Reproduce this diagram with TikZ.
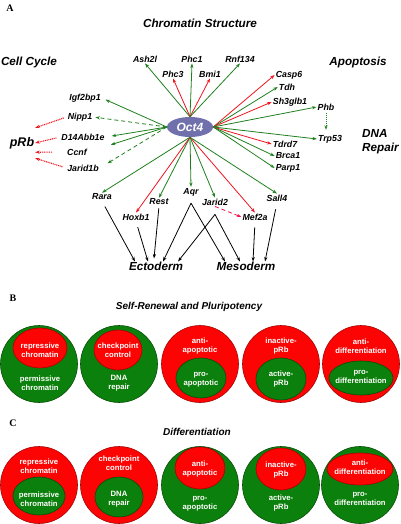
\documentclass[tikz,border=0pt]{standalone}
\usepackage{fontspec}
\setmainfont{Liberation Sans}
\newfontfamily\panelfont{Liberation Serif}
\usetikzlibrary{arrows.meta,shapes.geometric}
\definecolor{lgreen}{RGB}{30,128,30}
\definecolor{lred}{RGB}{238,20,30}
\definecolor{cgreen}{RGB}{12,128,12}
\definecolor{cred}{RGB}{252,4,4}
\definecolor{octfill}{RGB}{112,112,172}
\begin{document}
\begin{tikzpicture}[x=1pt,y=-1pt,
  gene/.style={font=\fontsize{8.8}{10}\selectfont\bfseries\itshape, inner sep=1pt},
  head/.style={font=\fontsize{11.7}{14}\selectfont\bfseries\itshape, inner sep=0pt},
  panel/.style={font=\fontsize{10}{12}\selectfont\panelfont\bfseries, inner sep=0pt},
  sub/.style={font=\fontsize{10}{12}\selectfont\bfseries\itshape, inner sep=0pt},
  tip/.style={-{Stealth[length=4.5pt,width=3.2pt]}},
  gar/.style={tip, draw=lgreen, line width=0.8pt},
  rar/.style={tip, draw=lred, line width=0.8pt},
  gdash/.style={tip, draw=lgreen, line width=0.8pt, dash pattern=on 4pt off 3pt},
  rdot/.style={tip, draw=lred, line width=1.1pt, dash pattern=on 1pt off 0.8pt},
  gdot/.style={tip, draw=lgreen, line width=0.8pt, dash pattern=on 1pt off 1pt},
  rdash/.style={tip, draw=lred!80!magenta, line width=0.8pt, dash pattern=on 4pt off 3pt},
  bar/.style={tip, draw=black, line width=0.8pt},
  gouter/.style={circle, minimum size=77pt, inner sep=0pt, fill=cgreen, draw=cgreen!60!black, line width=0.6pt},
  router/.style={circle, minimum size=77pt, inner sep=0pt, fill=cred, draw=cred!65!black, line width=0.6pt},
  ginner/.style={ellipse, inner sep=0pt, fill=cgreen, draw=cgreen!60!black, line width=0.6pt},
  rinner/.style={ellipse, inner sep=0pt, fill=cred, draw=cred!65!black, line width=0.6pt},
  ctext/.style={text=white, font=\fontsize{7.7}{9}\selectfont\bfseries, align=center, inner sep=0pt}
]
\useasboundingbox (0,0) rectangle (400,524);

% ---------- Panel A ----------
\node[panel] (pA) at (10,8) {A};
\node[head] (hchrom) at (200,23) {Chromatin Structure};
\node[head] (hcell) at (29,62) {Cell Cycle};
\node[head] (hapop) at (358,62) {Apoptosis};
\node[head, anchor=west, align=left] (hdna) at (362,142) {DNA\\Repair};

\node[ellipse, fill=octfill, minimum width=46pt, minimum height=20pt, inner sep=0pt,
      text=white, font=\fontsize{12}{14}\selectfont\bfseries\itshape] (oct4) at (190,127) {Oct4};

% top
\node[gene] (ash2l) at (145,59) {Ash2l};
\node[gene] (phc1) at (192,59) {Phc1};
\node[gene] (rnf134) at (240,59) {Rnf134};
\node[gene] (phc3) at (173,74) {Phc3};
\node[gene] (bmi1) at (210,74) {Bmi1};
% right
\node[gene] (casp6) at (289,75) {Casp6};
\node[gene] (tdh) at (287,87) {Tdh};
\node[gene] (sh3glb1) at (290,102) {Sh3glb1};
\node[gene] (phb) at (326,107) {Phb};
\node[gene] (trp53) at (330,139) {Trp53};
\node[gene] (tdrd7) at (285,144) {Tdrd7};
\node[gene] (brca1) at (288,156) {Brca1};
\node[gene] (parp1) at (288,168) {Parp1};
% bottom
\node[gene] (sall4) at (277,198) {Sall4};
\node[gene] (mef2a) at (255,217) {Mef2a};
\node[gene] (jarid2) at (215,202) {Jarid2};
\node[gene] (aqr) at (191,192) {Aqr};
\node[gene] (rest) at (159,202) {Rest};
\node[gene] (hoxb1) at (136,217) {Hoxb1};
\node[gene] (rara) at (102,197) {Rara};
% left
\node[gene] (igf2bp1) at (85,98) {Igf2bp1};
\node[gene] (nipp1) at (80,117) {Nipp1};
\node[gene] (d14) at (83,137) {D14Abb1e};
\node[gene] (ccnf) at (77,152) {Ccnf};
\node[gene] (jarid1b) at (83,168) {Jarid1b};
\node[font=\fontsize{12.5}{14}\selectfont\bfseries\itshape, inner sep=0pt,
      minimum height=30pt, minimum width=26pt] (prb) at (22,143) {pRb};

\node[head] (ecto) at (156,266) {Ectoderm};
\node[head] (meso) at (246,266) {Mesoderm};

% top arrows
\draw[gar] (oct4.north) -- (ash2l.south);
\draw[rar] (oct4.north) -- (phc3.south);
\draw[gar] (oct4.north) -- (phc1.south);
\draw[rar] (oct4.north) -- (bmi1.south);
\draw[gar] (oct4.north) -- (rnf134.south);
% right arrows
\draw[rar] (oct4.east) -- (casp6.west);
\draw[gar] (oct4.east) -- (tdh.west);
\draw[rar] (oct4.east) -- (sh3glb1.west);
\draw[gar] (oct4.east) -- (phb.west);
\draw[gar] (oct4.east) -- (trp53.west);
\draw[rar] (oct4.east) -- (tdrd7.west);
\draw[gar] (oct4.east) -- (brca1.west);
\draw[gar] (oct4.east) -- (parp1.west);
\draw[gdot, shorten <=2pt, shorten >=4pt] (phb.south) -- (phb.south |- trp53.north);
% bottom arrows
\draw[gar] (oct4.south) -- (sall4.north);
\draw[rar] (oct4.south) -- (mef2a.north);
\draw[gar] (oct4.south) -- (jarid2.north);
\draw[gar] (oct4.south) -- (aqr.north);
\draw[gar] (oct4.south) -- (rest.north);
\draw[rar] (oct4.south) -- (hoxb1.north);
\draw[gar] (oct4.south) -- (rara.north);
% left arrows
\draw[gar, shorten >=4pt] (oct4.west) -- (igf2bp1.east);
\draw[gdash, shorten >=2pt] (oct4.west) -- (nipp1.east);
\draw[gar, shorten >=6pt] (oct4.west) -- (d14.east);
\draw[gar, shorten >=24pt] (oct4.west) -- (ccnf.east);
\draw[gdash, shorten >=9pt] (oct4.west) -- (jarid1b.east);
% to pRb
\draw[rdot, shorten <=3pt] (nipp1.west) -- (prb.north east);
\draw[rdot, shorten <=4pt] (d14.west) -- (prb.east);
\draw[rdot, shorten <=14pt] (ccnf.west) -- (prb.-35);
\draw[rdot, shorten <=4pt] (jarid1b.west) -- (prb.south east);
% Jarid2 -> Mef2a
\draw[rdash] (jarid2.south) -- (mef2a.west);

% germ layers
\coordinate (aqrp) at ([yshift=-6pt]aqr.south);
\coordinate (j2p) at ([yshift=-8pt]jarid2.south);
\draw[bar, shorten <=6pt] (rara.south) -- ([xshift=-21pt]ecto.north);
\draw[bar, shorten <=6pt] (hoxb1.south) -- ([xshift=-8pt]ecto.north);
\draw[bar, shorten <=2pt] (rest.south) -- ([xshift=-2pt,yshift=3pt]ecto.north);
\draw[bar] (aqrp) -- ([xshift=7pt]ecto.north);
\draw[bar] (j2p) -- ([xshift=22pt]ecto.north);
\draw[bar] (aqrp) -- ([xshift=-21pt]meso.north);
\draw[bar] (j2p) -- ([xshift=-6pt]meso.north);
\draw[bar, shorten <=6pt] (mef2a.south) -- ([xshift=7pt]meso.north);
\draw[bar, shorten <=7pt] (sall4.south) -- ([xshift=19pt]meso.north);

% ---------- Panel B ----------
\node[panel] (pB) at (13,298) {B};
\node[sub] (hself) at (189,307) {Self-Renewal and Pluripotency};

\node[gouter] (b1) at (39,364) {};
\node[rinner, minimum width=54pt, minimum height=40pt] (b1i) at (40,348) {};
\node[ctext] (b1t) at (40,350) {repressive\\chromatin};
\node[ctext] (b1u) at (40,383.5) {permissive\\chromatin};

\node[gouter] (b2) at (119,364) {};
\node[rinner, minimum width=48pt, minimum height=40pt] (b2i) at (118,350) {};
\node[ctext] (b2t) at (118,350) {checkpoint\\control};
\node[ctext] (b2u) at (119,383.5) {DNA\\repair};

\node[router] (b3) at (200,364) {};
\node[ginner, minimum width=50pt, minimum height=40pt] (b3i) at (201,378) {};
\node[ctext] (b3t) at (200,346.5) {anti-\\apoptotic};
\node[ctext] (b3u) at (201,379.5) {pro-\\apoptotic};

\node[router] (b4) at (281,364) {};
\node[ginner, minimum width=50pt, minimum height=42pt] (b4i) at (281,379) {};
\node[ctext] (b4t) at (281,346.5) {inactive-\\pRb};
\node[ctext] (b4u) at (281,379.5) {active-\\pRb};

\node[router] (b5) at (361,364) {};
\node[ginner, minimum width=64pt, minimum height=34pt] (b5i) at (361,378) {};
\node[ctext] (b5t) at (361,346) {anti-\\differentiation};
\node[ctext] (b5u) at (361,376.5) {pro-\\differentiation};

% ---------- Panel C ----------
\node[panel] (pC) at (13,423) {C};
\node[sub] (hdiff) at (197,432) {Differentiation};

\node[router] (c1) at (39,485) {};
\node[ginner, minimum width=52pt, minimum height=38pt] (c1i) at (39,496) {};
\node[ctext] (c1t) at (39,466.5) {repressive\\chromatin};
\node[ctext] (c1u) at (39,499.5) {permissive\\chromatin};

\node[router] (c2) at (119,485) {};
\node[ginner, minimum width=48pt, minimum height=40pt] (c2i) at (119,497) {};
\node[ctext] (c2t) at (119,463.5) {checkpoint\\control};
\node[ctext] (c2u) at (119,499.5) {DNA\\repair};

\node[gouter] (c3) at (200,485) {};
\node[rinner, minimum width=50pt, minimum height=42pt] (c3i) at (200,468) {};
\node[ctext] (c3t) at (200,469.5) {anti-\\apoptotic};
\node[ctext] (c3u) at (200,503.5) {pro-\\apoptotic};

\node[gouter] (c4) at (281,485) {};
\node[rinner, minimum width=50pt, minimum height=42pt] (c4i) at (281,469) {};
\node[ctext] (c4t) at (281,470.5) {inactive-\\pRb};
\node[ctext] (c4u) at (281,503.5) {active-\\pRb};

\node[gouter] (c5) at (360,485) {};
\node[rinner, minimum width=66pt, minimum height=32pt] (c5i) at (360,469) {};
\node[ctext] (c5t) at (360,467.5) {anti-\\differentiation};
\node[ctext] (c5u) at (360,499) {pro-\\differentiation};
\end{tikzpicture}
\end{document}
